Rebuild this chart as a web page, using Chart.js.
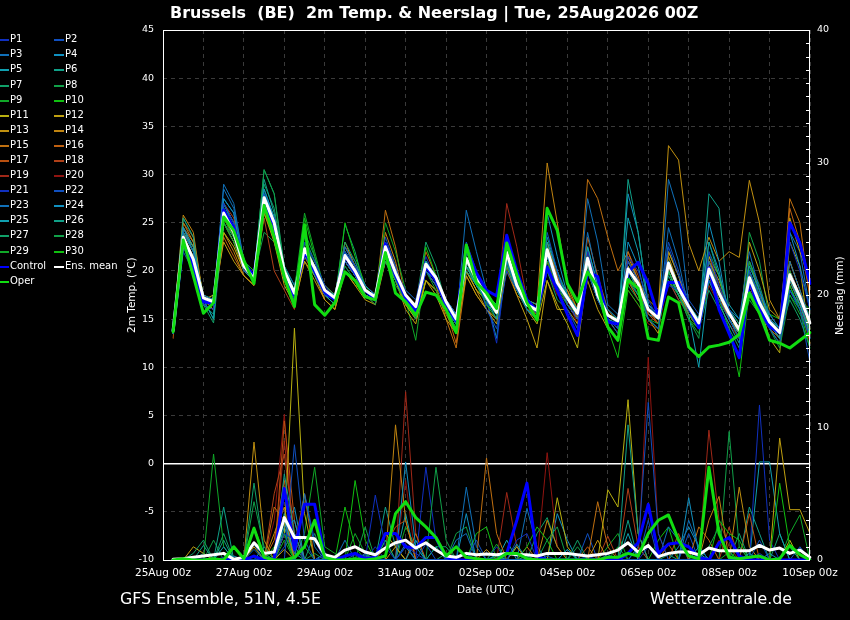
<!DOCTYPE html>
<html><head><meta charset="utf-8">
<script src="https://cdn.jsdelivr.net/npm/chart.js@4.4.1/dist/chart.umd.min.js"></script>
<style>
html,body{margin:0;padding:0;background:#000;}
#wrap{position:relative;width:850px;height:620px;background:#000;overflow:hidden;font-family:"DejaVu Sans",sans-serif;color:#fff;}
#c{position:absolute;left:0;top:0;}
.t{position:absolute;white-space:pre;color:#fff;}
.ln{position:absolute;}
</style></head><body>
<div id="wrap"><canvas id="c" width="850" height="620"></canvas></div>
<script>
// ---- categories / tick labels ----
const tickLabels = ['25Aug 00z','27Aug 00z','29Aug 00z','31Aug 00z','02Sep 00z','04Sep 00z','06Sep 00z','08Sep 00z','10Sep 00z'];
const seriesNames = ['P1','P2','P3','P4','P5','P6','P7','P8','P9','P10','P11','P12','P13','P14','P15','P16','P17','P18','P19','P20','P21','P22','P23','P24','P25','P26','P27','P28','P29','P30','Control','Ens. mean','Oper'];
const memberColors = ['#1030c0','#1050c0','#1070b8','#1090c0','#10a0b0','#10a088','#10a068','#10a048','#10a828','#10c010','#b8b010','#c0a010','#c09010','#c08410','#c07010','#c06010','#b85010','#b04018','#a02818','#901410','#1030c0','#1050c0','#1070b8','#1090c0','#10a0b0','#10a088','#10a068','#10a048','#10a828','#10c010'];
const ctrlColor='#0000ff', meanColor='#ffffff', operColor='#11dd11';

// ---- 2m temperature (°C), 6-hourly from 25Aug 06z to 10Sep 00z ----
const tMean=[13.8,23.5,21.2, 17.2,16.8,26.0,24.0, 20.5,19.2,27.6,25.0, 20.0,17.7,22.3,20.3, 18.0,17.2,21.6,20.0, 18.0,17.3,22.5,19.8, 17.5,16.3,20.7,19.3, 16.8,15.0,21.3,19.1, 17.3,15.7,21.9,18.5, 16.5,15.9,22.2,18.8, 17.2,15.6,21.3,17.5, 15.4,14.8,20.2,18.7, 16.0,15.1,20.8,18.2, 16.3,14.6,20.2,17.7, 15.6,13.9,19.3,16.7, 14.7,13.6,19.6,17.3, 14.6];
const tCtrl=[13.8,23.0,20.5, 16.8,16.6,26.3,24.5, 20.8,19.5,27.0,24.8, 19.5,17.5,22.0,20.0, 17.8,17.0,21.6,19.8, 18.0,17.0,22.8,19.5, 17.2,15.8,20.5,19.0, 16.6,14.8,22.5,19.8, 18.0,17.4,23.7,20.0, 17.0,15.9,20.4,18.0, 15.5,13.3,19.9,19.4, 14.7,14.5,19.9,20.9, 18.7,15.2,18.8,18.8, 16.3,14.1,20.3,16.0, 13.5,11.0,19.0,16.0, 14.2,13.6,25.0,22.9, 18.7];
const tOper=[13.7,23.2,19.5, 15.6,16.7,25.6,24.2, 21.1,18.7,26.8,23.5, 19.4,16.3,24.8,16.5, 15.4,16.7,19.9,19.0, 17.3,17.0,21.9,17.7, 16.8,15.4,17.8,17.5, 16.0,13.6,22.7,18.8, 17.7,16.1,22.9,19.6, 16.7,14.9,26.5,24.2, 18.7,16.8,19.9,18.3, 14.2,12.8,19.1,18.2, 13.0,12.8,17.3,16.7, 12.1,11.1,12.1,12.3, 12.6,13.4,17.7,15.6, 12.8,12.5,12.0,12.8, 13.6];
const t01=[14,22.5,20, 16.5,16,27,25, 21,19,27,25.5, 19.5,17,23,21, 18.5,17,22,20.5, 18,17,23,20, 18,17,21.5,19, 16,14,21,19.5, 17.5,16,23.5,19, 17,15.5,20,18, 16,14,22,18, 15,14,21.5,20, 17,15,18.5,18, 16,14,22,18.5, 16,14,18,16, 15,13.5,23,20, 16];
const t02=[13.5,23,20.5, 17,16.5,26.5,24, 20,19.5,28,25, 19,17.5,21.5,20, 17.5,17,21,19.5, 18,17.5,23.5,20.5, 17,15.5,20,18.5, 17,15.5,23,20, 16,14,20,18, 17,16,24,20, 16.5,15,20,17, 15,13.5,21,19, 15,14,22.5,19.5, 17,15.5,19,17, 15,13,20,17.5, 14,12.5,18,16, 13];
const t03=[14,24,22, 17.5,17,28.5,26.5, 21,19.5,27,24.5, 20,18,22,20, 18,17.5,22.5,20.5, 18.5,17.5,22,19.5, 17.5,16.5,20.5,19, 16,14.5,26.3,22, 18,16,21,18, 16,15,21.5,18.5, 17,15.5,24,19, 16,15,20,18, 16.5,15,24.5,21, 16,14.5,21,18, 16,15,22,18, 15.5,14,21,18, 15];
const t04=[13.5,24.5,22, 17,16.5,27.5,26, 20.5,19,28.5,25.5, 20,18,22.5,20.5, 18,17,21,19.5, 18,17,22.5,20, 17,16,20,19, 17,15.5,22,19.5, 17,15,22.5,19.5, 16.5,16,26,21.5, 17.5,16,21,17.5, 15,14,23,20.5, 16,15,21,18.5, 16.5,15,25,21, 15,13.5,19,17, 14.5,13,24,20.5, 16];
const t05=[14,24.5,22.5, 17,15,27,25, 20,19,28,25.5, 19.5,17,22,19.5, 17.5,16.5,22,20.5, 18.5,17.5,23,20, 17.5,16.5,21,19.5, 16,14.5,20.5,18.5, 17,16,22,19, 16,15,23,20, 17,15.5,22.5,18.5, 15.5,14.5,25.5,22, 16.5,15.5,21,18, 16,14,19,16.5, 14.5,12.5,20.5,18, 15,14,19,16.5, 13.5];
const t06=[13.5,25.5,23.5, 16.5,15.5,27,24.5, 21,19.5,29.5,26, 20,17.5,23,21, 17.5,17,22,20, 17.5,17,21.5,19, 17,16,21,19.5, 17,15.5,20,18.5, 17.5,16.5,21,18, 17,16.5,23.5,20, 17.5,16,20.5,17, 15,14,29.5,24, 16.5,15.5,19.5,17.5, 16.5,15,23,19.5, 16,14.5,20,17, 15,14,18,16.5, 14];
const t07=[13.8,23,21, 16.5,14.6,25,23.5, 20.5,19,29,26.5, 20.5,18,23.5,21, 18.5,17.5,23,21, 18,17,21,18.5, 17,15,20,18.5, 16.5,15,20.5,18.5, 17,16,21.5,18.5, 16,15,20,17, 16,14,21,17.5, 16,15,19,17.5, 15,14,20,17.5, 15.5,14,18,16, 14,12,21,18.5, 15,13.5,17,15, 12];
const t08=[14,24,22, 17.5,17,26.5,24, 20.5,19.5,30.5,28, 20,18,24,21.5, 18,17,21,19.5, 17.5,16.5,22,19.5, 17,15.5,21,19.5, 16.5,15,21.5,19, 16.5,15.5,20.5,18, 16.5,16,22.5,19, 17,15.5,20,17, 15.5,14.5,18.5,17, 16,15,19,17.5, 15,13,22,19.5, 15,13,17,15.5, 14,12,17.5,16, 13];
const t09=[13.5,22.5,20.5, 17,17,25,23, 20.5,19,27.5,24.5, 20,18,26,22, 18,17.5,20.5,19, 18,17.5,25,22, 18,17,20,18, 16,14.5,21,18.5, 17,15.5,21.5,18.5, 16,15,21,18, 16.5,15.5,21,17.5, 15.5,15,20,18, 15,14.5,19,17.5, 15,13.5,19.5,17.5, 16,14.5,21,17.5, 14.5,13,20,17, 15.5];
const t10=[13.5,23,21, 17,17,25.5,23.5, 21,20,28,24, 19,16.5,25.5,21.5, 17.5,16.5,25,21.5, 18.5,17,22,19, 17,15.5,22.5,19.5, 16,14,20.5,18.5, 16.5,15,21,18, 16,15,22,18, 17,15.5,21.5,17.5, 14,11,18,16.5, 15,14,20,17.5, 15,14,19,17, 14,9,18,16, 14,12.5,18.5,16, 12];
const t11=[14,23,21.5, 17,17.5,24,22.5, 20,19,27,24.5, 19.5,17.5,21.5,20, 18,17,21,19.5, 17.5,17,21,19, 16.5,15,19,18, 16,14.5,20,18, 17,15.5,21,18, 16,14.5,19,16.5, 14.5,12,20,17, 15.5,15,19,18, 16,15,20,17.5, 16,14.5,21.5,19.5, 15.5,13.5,19,16.5, 13,11.5,23,20.5, 12.5];
const t12=[14,24,22.5, 17.5,17,23,21, 19.5,18.5,26,23, 18.5,16.5,21,19, 17,16,20,18.5, 17,16.5,21,19, 16,14.5,19,17.5, 15,13.5,19.5,17.5, 16,14.5,20.5,17.5, 15,12,19,16, 16,14.5,19,16, 14,13,20.5,18, 15,13.5,22,19.5, 16,15,21,19, 16,14,23,20, 16,15,25.5,22, 19];
const t13=[13.5,25,23, 17,16.5,25,23, 20,19.5,27,25, 19.5,17,22.5,20.5, 18,17.5,23,20.5, 17.5,17,22,19.5, 17,16,20.5,19, 16,14,20,18, 16,15,22,19, 16,15,22,19, 18,15,21,18, 15,13.5,21.5,19, 17,16,33,31.5, 22.9,20,23.5,21, 22,21.4,29.4,25, 17,15,21,18, 15];
const t14=[14,25.8,24, 17,16,24,22, 19.5,18.5,26.5,24, 19,16.5,21,19.5, 17,16,20,18.5, 18,17.5,24,21, 16.5,15,19,18, 15.5,13.5,20.5,18.5, 17.5,16.5,22.5,19.5, 17,16.5,31.2,25, 18.5,16,21.5,17.5, 15.5,14.5,21,19, 16,15,22,19.5, 16,14.5,20,17.5, 15,13.5,21,18, 14.5,13,21,18, 14];
const t15=[14,24,22, 17.5,17,25.5,23.5, 20.5,19,27,24, 19,17,21.5,19.5, 17.5,16.5,21,19.5, 18,17,26.3,22.5, 17,15.5,20,18.5, 15,12,19.5,17.5, 16,15,20,17.5, 16.5,15.5,21,18, 18,16,29.5,27.5, 23.5,20,22,19, 16.5,15.5,21.5,18.5, 16,14.5,19.5,17, 15.5,13.5,19.5,17, 15,13.5,27.5,25, 17];
const t16=[13.5,24.5,22.5, 16.5,16,23.5,21.5, 19.5,18.5,26,23.5, 19,17,22,20, 17,16,21,19.5, 18,17,22,19, 17.5,16.5,22,19.5, 16,12.5,20,18, 17,15.5,21.5,18.5, 16,15,23,19.5, 16.5,15,23.5,19.5, 16,14.5,19,17, 16,14.5,20.5,18, 15.5,14,21,18, 15,13,18.5,16, 14,13,26.5,23, 17.5];
const t17=[13,24.5,23, 17,16.5,27,25, 20.5,19,26.5,23, 19.5,17.5,22.5,20.5, 18.5,17.5,22,20, 18,17,23,20.5, 17,15.5,21,19.5, 17,15.5,21.5,19, 17.5,16,23,19.5, 17,16,22.5,19, 17,15.5,20.5,17.5, 15.5,14.5,22,19.5, 15.5,14.5,19,17, 15.5,14,21.5,18.5, 15.5,14,20,17, 15,14,20,17.5, 14.5];
const t18=[14,25,23.5, 17,16.5,27,25.5, 20,19,25.5,20, 18,16,22.5,20.5, 18,17,22.5,20.5, 18.5,17.5,22,19.5, 17.5,16,20.5,19, 16.5,15,20.5,18.5, 17,16,23,19.5, 16,15.5,21,18, 17,15.5,21,17.5, 15.5,14.5,20,18, 15.5,14.5,21,18.5, 16,14,19.5,17, 15,13.5,18.5,16, 14.5,13,19,16.5, 14];
const t19=[13.5,24,22, 16.5,16,26,24.5, 20.5,19.5,27.5,25, 20,18,22,20, 17.5,16.5,21.5,19.5, 17.5,17,21.5,19, 16.5,15.5,20,18.5, 16.5,15,22,19.5, 17.5,16,27,22.5, 17,16.5,21,18.5, 17.5,16,22,18, 15,14,19,17, 16,14.5,21,18.5, 16,14.5,20.5,18, 15,13,19.5,17, 14.5,13,19,16.5, 13.5];
const t20=[14,23.5,21.5, 17,16.5,25.5,23.5, 20,19,27,24.5, 19.5,17.5,22.5,20, 18,17,21,19.5, 17.5,16.5,22,19.5, 17.5,16,20,19, 17,15.5,21,19, 17.5,16,22,18.5, 16,15.5,20,17.5, 17,14.5,21,17.5, 15.5,15,18,16.5, 14.5,14,19,17.5, 15.5,14,18.5,16.5, 14.5,13,18,16, 14,12.5,19,16.5, 12.5];
const t21=[14,23,21, 17,16.5,26,24.5, 20,19,28,25, 20,18,22,20.5, 18,17,20.5,19, 18,17.5,22,20, 17.5,16.5,20.5,19, 16.5,15,21,19, 17,12.5,21,18, 16,15,22,19, 17,15,22,18, 15,14,20.5,18.5, 16,15,19,17, 16,14.5,20,17.5, 15.5,14,18,16, 14.5,13,20,17.5, 13];
const t22=[13.5,22,20, 16.5,16,25,23, 20.5,19.5,28,25.5, 20,17.5,22,20, 17.5,17,22.5,21, 18.5,17.5,22.5,20, 17.5,16.5,21,19.5, 16,14.5,21.5,19.5, 17,15.5,22,18.5, 16.5,16,21.5,18.5, 17,16,20,17, 15,14,21,19, 16.5,15.5,23,20, 16,14.5,20.5,18, 15,13.5,19.5,17, 14.5,13,18,16, 10.5];
const t23=[14,24.5,23, 17,16.5,29,27, 21,20,28,25.5, 20.5,18.5,22,20, 18,17,21.5,19.5, 17.5,17,21.5,19.5, 17.5,16.5,20.5,19.5, 17,15,21,19, 17.5,16,20.5,18, 16.5,15.5,22,19, 17.5,16,27.5,23, 16.5,15.5,19.5,17.5, 16,15,29.5,26, 16.5,14.5,19.5,17, 15,13.5,20,17.5, 15,13.5,24,22, 16];
const t24=[13.5,24,22, 17,16.5,27.5,26, 20.5,19.5,27.5,25, 20,18,22.5,20.5, 18,17.5,22.5,20.5, 18,17.5,23,20.5, 17,15.5,21,19, 17,15.5,20.5,19, 17,13,21,18.5, 17,16,22.5,19.5, 16.5,15,20,17.5, 15,14.5,28,24, 16.5,15.5,21,18.5, 16,14.5,23,20, 15,13.5,19,16.5, 14.5,13,20,17.5, 14.5];
const t25=[13.5,23.5,21.5, 16.5,16,26.5,24.5, 20,19,27,24.5, 20,18,22.5,20.5, 18,17,22,20.5, 18,17.5,22,20, 17.5,16,20,18.5, 16.5,14.5,21,18.5, 17,15.5,21.5,18.5, 16.5,15.5,22.5,19, 16.5,15,22.5,18.5, 15,14,21,19, 15.5,15,20,17.5, 15.5,10,19,17, 16.5,15,19,17.5, 15.5,14,19,17, 13];
const t26=[14,24,22, 17,15,27,25, 20,19,28.5,25.5, 19.5,17.5,22.5,20.5, 17.5,16.5,22,20, 18,17,22.5,20, 17,16,20.5,19, 16.5,15,21,18.5, 17,16,21,18, 16,15.5,22,18.5, 16.5,15,21.5,17.5, 15,14,21,19, 15.5,15,21,18, 15.5,14.5,28,26.5, 15.5,14,20,17, 15,14,20,17.5, 14.5];
const t27=[13.5,25.5,23.5, 17,16,26,24, 20.5,19.5,30.5,28, 20.5,18.5,23,20.5, 18,17,24.8,22, 18,17.5,22,19.5, 17.5,16.5,23,20.5, 16.5,15,20.5,18.5, 17,15.5,22,19, 16.5,16,22.5,19, 16.5,15,21.5,18, 15,14.5,20,18, 16,15.5,21,18, 15.5,14.5,20.5,18, 15.5,14,20,17, 14.5,13,18.5,16, 14];
const t28=[14,24,22.5, 17.5,17,26,24, 20.5,19.5,24,23, 19.5,17.5,22,20, 18,17,21.5,19.5, 17.5,16.5,22.5,20, 17,15.5,21,19, 16,14.5,21,19, 17,16,21.5,18, 16.5,15,23,19.5, 17.5,16,21,17.5, 15.5,14.5,19,17.5, 16,15,20,17.5, 16,15,21,18.5, 15,13.5,24,21, 15,14,19.5,16.5, 15];
const t29=[14,23,21, 16.5,16,25.5,23.5, 20.5,19,27,24.5, 20,18,22.5,20.5, 18,17,21,19.5, 17.5,17,22,19.5, 17,12.8,20.5,19, 16.5,15,21,19, 17.5,16.5,22,18.5, 16.5,15.5,22,18.5, 17,15.5,22,18, 15.5,15,20.5,18.5, 16,15,20.5,18, 15.5,14,19.5,17, 15.5,14,19.5,17, 15,14,17.5,15.5, 14];
const t30=[13.5,23.5,21.5, 17,16.5,25,23, 20.5,19.5,27.5,24.5, 20,18,23,20.5, 18,17,22,20, 18,17,22,19.5, 17,15.5,21,19, 16.5,15,21.5,19, 17,15.5,22,18.5, 16,15,21.5,18, 17,15.5,21.5,18, 15,14,20,18.5, 16,15,21.5,18.5, 16,14,19.5,17, 15,13,19,16.5, 15.5,15,19,17, 16];

// ---- precipitation (mm per 6 h), same time steps ----
const rMean=[0.05,0.1,0.2,0.3,0.4,0.5,0.05,0.2, 1.3,0.5,0.6,3.2,1.7,1.7,1.6,0.4, 0.2,0.75,1.0,0.6,0.4,0.9,1.3,1.5, 0.9,1.3,0.75,0.3,0.2,0.5,0.4,0.45, 0.4,0.5,0.4,0.4,0.3,0.5,0.5,0.5, 0.4,0.3,0.4,0.5,0.75,1.3,0.6,1.1, 0.25,0.5,0.6,0.6,0.4,0.9,0.7,0.7, 0.7,0.7,1.1,0.75,0.9,0.5,0.75,0.2];
const rCtrl=[0,0,0,0,0,0,0,0, 0.3,0,0.1,5.4,0.8,4.2,4.2,0.2, 0,0.3,0.5,0.1,0.2,2.0,2.0,1.0, 0.9,1.7,1.7,0.2,0,0,0,0, 0,0.5,3.0,5.8,0.3,0,0,0, 0,0,0,0,0,0.5,1.3,4.2, 0.5,1.2,1.3,1.0,0.2,0,1.3,1.7, 0.3,0,0,0,0,0,0,0];
const rOper=[0,0.1,0,0,0.1,0,1.0,0.1, 2.4,0.2,0,0,0.2,1.0,3.0,0.2, 0,0,0.1,0,0.1,0.3,3.5,4.4, 3.2,2.5,1.7,0.3,1.0,0.2,0.1,0, 0,0.5,0.5,0.1,0,0,0,0, 0,0,0,0.2,0.2,0.5,0.3,2.0, 3.0,3.4,1.5,0.3,0.1,7.0,2.0,0.2, 0.1,0.2,0.3,0,0.1,1.1,0.4,0];
const r01=[0,0,0,0,0,0.2,0,0, 0,0,0,2,1.5,0,0,0.3, 0,0,0,0,4.9,1,0,1, 0.5,0,0,0,0,0,0,0, 0,0,1.5,2,0,0,0,0, 0,0.3,0,0,0,0,0,1, 0,0,0,0,0,0,0,0, 0,0,0.5,0,0,0,0,0];
const r02=[0,0,0,0,0,0,0,0, 0,0.3,0,0,8.7,1.5,0,0, 0,0,0.4,0,0,0,0,0, 0,1.2,0,0,0,0.5,0,0, 0,0,0,0,0,0.3,0,0, 0,0,0,0,0,0,1,11.9, 2,0,0,0,0,0,0,0, 0,0,1.5,0,0,0,0,0];
const r03=[0,0,0,0,0,0,0,0, 0.8,0,0,0,0,5,1,0, 0,0,0,0.3,0,0,0,1.2, 0,0,0,0,0,5.5,1,0, 0,0,0,0,0,0,0,0, 0,0,0,0.4,0,0,0,0, 0,0,0,3,1,0,0,0, 0,0,0,0,0,0,0,0];
const r04=[0,0,0,0,0,0,0.3,0, 0,0,0,2.5,3,0,0,0, 0,0,0,0,0,0,0,7.4, 1,0,0,0,0,0,0,0, 0.4,0,0,0,0,0,0,0.8, 0,0,0,0,0,0,0,0, 0,0,0,4.7,0.5,0,0,0, 0,0,0,0.5,0,0,0,0];
const r05=[0,0,0,0,0,1,0,0, 0,0,0,3,0.5,0,0,0, 0.3,0,0,0,0,0,0,0, 1.5,0,0,0,0,0,0,0, 0,0,1.2,0,0,0,0,0.8, 0,0,0,0,0,2,0,0, 0,0,0,0,1,0,0,0, 0,0.5,0,0,0,0,0,0];
const r06=[0,0,0,1.1,0,4,0,0, 0,0,0,6.5,2,0,0,0, 0,0,0,0.4,0,0,0,0, 0,0,1,0,0,0,0,0, 0,0,0,0.3,0,0,0,0, 0,0,0,0,0,10.2,2,0, 0,0,0,0,0,0,0,0, 0,0,0,0,0,1,0,0];
const r07=[0,0,0.5,1.5,0,0,0,0, 5.8,0.5,0,0,0,0,0,0, 0,0,0,0,0,1.5,0,0, 0,0,0,0.5,0,0,0,0, 0.3,0,0,0,0,0,0,0, 1.5,0,0,0,0,0,0,0, 0,0.4,0,0,0,0,0,0, 2,0,0,0,0,0,0,0];
const r08=[0,0,0,0,0,0,0,0, 4.4,1,0,0,0,0,0.5,0, 0,0,0,0,0,0,0,0, 0,0,7,1.5,0,0,0,0, 0,0,0,0,0,1.5,2.5,0, 0,0,0,0,0,0,0,0, 0,0,0,0,0,1,2.5,0, 0,0,0,0,0,0,0,0];
const r09=[0,0,0,0,8,1,0,0, 0,0,0,1.5,0,0,0,0, 0,0,2,0.5,0,0,0,0, 0,0,0,0,0,0,0,0, 1.2,0,0,0,0,0,0,0, 0,0,0,0,1,0,0,0, 0,0,0,0,0,0,0,0.6, 0,0,0,0,0,0,0,0];
const r10=[0,0,0,0,0,0,0,0, 0,0,1,2,0,0,0,0, 0,0,6,1.5,0,0,0,0, 0,0,0,0,0,0,0,0, 0,0,0,1,2.5,1.5,0,0, 0,0,0,0,0,0,0,0, 0,0,0,0,0,0,3,2, 1.5,0,0,0,5.8,1,0,0];
const r11=[0,0,0,0,0,0,0,0, 0,0,0,2,17.5,3.5,0,0, 0,0,0,0,0,0,0,0, 0,0,0,0,0,0,0,0, 0,0,0,0,0,0,4.7,1, 0,0,0,5.3,4,12.1,2,0, 0,0,0,0,0,0,0,0, 0,0,0,0,0,1.5,0,0];
const r12=[0,0,1,0.5,0,0,0,0, 1,0,0,0.8,0,0,0,0, 0,0,0,0,0,0,1,0, 0,0,0,0,0,0,0,0, 0,0,1,0,0,0,0,0, 0,0,0,0,0,0,0,0, 0,0,0,0,0,0,0,0, 0,0,0,0,9.2,3.8,3.8,2];
const r13=[0,0,0,0,0,0,0,0, 8.9,1.5,0,0,0,0,0,0, 0,0,0,0,0,2,1,0, 0,0,0,0,0,0,0,0.8, 0,0,0,0,0,0,0,0, 0,0,1.5,0,0,0,0,0, 0,0,0,0,0,0,0,0, 5.5,1,0,0,0,0,0,0];
const r14=[0,0,0,0,0,0,0,0, 0,0,2,4,0,0,0,0, 0,0,0,0,0,0,10.2,3, 0,0,0,0,0,0,0,0, 0,0,0,0,0,3,1,0, 0,0,0,0,0,0,0,0, 0,0,0,0,0,3,4.8,0, 0,0,0,0,0,0,0,0];
const r15=[0,0,0,0,0,0,0,0, 0,0,4,3,0,0,0,0, 0,0,0,0,0,0,0,0, 0,0,0,0,0,0,0,7.7, 2,0,0,0,0,0,0,0, 0,0,4.4,1,0,0,0,0, 0,0,0,0,2.5,1.5,0,0, 0,0,0,0,0,0,0,0];
const r16=[0,0,0,0,0,0,0,0, 0,0,1.5,6,1,5,0,0, 0,0,0,0,0,0,0,0, 2,0,0,0,0,0,0,0, 0,0,0,1,0,0,0,0, 0,0,0,0,0,0,0,0, 0,1.2,0,0,0,0,0,0, 0,0,0,0,0,0,0,0];
const r17=[0,0,0,0,0,0,0,0, 0,0,0,10.5,3,0,0,0, 0,0,0,0,0,1,2.5,3, 0,0,0,0,0,0,0,0, 0,0,0,0,0,0,0,0, 0,1,0,0,0,0,0,0, 0,0,2,0,0,0,0,0, 0,3.5,0,0,0,0,0,0];
const r18=[0,0,0,0,0,0,0,0, 0,0,5,8,2,0,0,0, 0,0,0,0,0,0,0,0, 0,0,0,0,1,0,0,0, 0,0,0,0,0,0,0,0, 0,0,0,1.8,0,5.4,1,0, 0,0,0,0,0,0,0,2.5, 0,0,0,0,0,0,0,0];
const r19=[0,0,0,0,0,0,0,0, 0,0,0,9,1.5,0,0,0, 0,0,0,0,0,0,0,12.7, 2,0,0,0,0,0,0,0, 0,5.1,1,0,0,0,0,0, 0,0,0,0,0,0,0,0, 0,0,0,0,0,9.8,3,1, 0,0,0,0,0,0,0,0];
const r20=[0,0,0,0,0,0,0,0, 0,0,3,11,0,0,0,0, 0,0,0,0,0,0,0,6, 0,0,0,0,0,0,0,0, 0,0,0,0,0,8.1,1,0, 0,0,0,0,0,0,0,15.3, 2,0,0,0,0,0,1.5,0, 0,0,0,0,0,0,0,0];
const r21=[0,0,0,0,0,0,0,0, 0,0,0,0,0,5,1.5,0, 0,0,0,0,1,0,0,0, 0,7,1.5,0,0,0,0,0, 1,0,0,0,0,0,0,0, 0,0,0,0,0,0,0,0, 0,0,0,0,0,0,0,0, 0,0,11.7,1.5,0,0,0,0];
const r22=[0,0,0,0,0,0,0,0, 0,0,0,1,2,0,0,0, 0,0,0,0.5,0,0,0,0, 0,0,0,0,0,0,1.5,0, 0,0,0,0,0,0,0,0, 0,2,0,0,0,0,0,3, 0,0,0,2,0,0,0,0, 0,0,0,0,0,0,1,0];
const r23=[0,0,0,0,0,0,0,0, 1.2,0,0,3,0,0,0,0, 0,1.5,0,0,0,0,0,0, 0,0,0,0,1.5,2,0,0, 0,0,0,3.9,1,0,0,0, 0,0,0,0,0,0,0,0, 0,2.5,1.5,0,0,0,0,0, 0,0,0,0,0,0,0,0];
const r24=[0,0,0,0,0,0,0,0, 0,0,0,2,4,0,0,0.5, 0,0,0,0,0,0,0,1, 0,0,0,0,0,3.5,0,0, 0,0,0,0,0,0,3.5,1.5, 0,0,0,0,0,0,0,0, 0,0,1,2.5,1,0,0,0, 0,0,0,0,0,0,0,0];
const r25=[0,0,0,0,0,0,0,0, 0,1,0,3.5,0,0,0,0, 0,0,0,0,0,1.5,0,3.5, 0,0,0,0,0,0,0,0, 0,1.5,0,0,0,0,0,0, 0,0,0,0,0,0,1,0, 0,0,0,0,0,0,0,0, 0,0,7.4,7.4,2,0,0,0];
const r26=[0,0,0,0,0,1.5,0,0, 0,0,0,5,1,0,0,0, 0,0,0,0,0,4,1,0, 0,0,0,0,0,0,0,0, 0,0,1,0,0,0,0,0, 0,0,0,0,0,3,0,0, 0,0,0,0,0,0,0,0, 0,4,2,0,0,0,0,0];
const r27=[0,0,0,0.5,0,2,0,0, 0,0,0,2,0,0,2,0, 0,0,0,0,0,0,0,0, 0,0,1,1,0,0,0,0, 0,0,0,0,2,3.2,1,0, 0,0,0,0,0,0,0,0, 0,0,0,0,0,0,0,0, 0,0,0,0,2,0,0,0];
const r28=[0,0,0,0,1.5,0,0,0, 0,0,0,2.5,0,1,0,0, 0,0,0,2.5,0,0,0,0, 0,0,0,0,2,2.5,0,0, 0,0,0,0,0,0,0,0, 1,0,0,0,0,0,0,0, 0,0,0,0,0,0,0,9.7, 1,0,0,0,0,0,0,0];
const r29=[0,0,0,0,0,0,0,0, 0,0,0,0,0,2,7,1, 0.5,0,0,0,0,0,0,2.5, 1,0,0,0,0,0,0,0, 0,0,0,0,0,0,0,0, 0,0,0,1,2,0,0,0, 0,0,0,0,0,0,0,0, 0,0,0,0,0,2,3.4,0];
const r30=[0,0,0,0,0,0,0,0, 2.5,0.5,0,0,0,0,0,0, 0,4,1,0,0,0,0,0, 0,0,0,0,0,0,2,2.5, 0,0,0,0,0,0,0,0, 0,0,0,0,0,0,0,0, 1.5,2.5,0,0,0,0,0,0, 1,0,0,0,0,0,0,0];

const memberTemps=[t01,t02,t03,t04,t05,t06,t07,t08,t09,t10,t11,t12,t13,t14,t15,t16,t17,t18,t19,t20,t21,t22,t23,t24,t25,t26,t27,t28,t29,t30];
const memberPrecip=[r01,r02,r03,r04,r05,r06,r07,r08,r09,r10,r11,r12,r13,r14,r15,r16,r17,r18,r19,r20,r21,r22,r23,r24,r25,r26,r27,r28,r29,r30];

// x categories: 6-hourly steps, 25Aug 00z .. 10Sep 00z (65 steps)
const steps=[]; for(let h=0;h<=384;h+=6) steps.push(h+'h');

function ds(vals,color,width,axis,order){
  return {data:[null].concat(vals),borderColor:color,backgroundColor:color,borderWidth:width,yAxisID:axis,
    pointRadius:0,pointHoverRadius:0,fill:false,tension:0,order:order,borderJoinStyle:'round',borderCapStyle:'round'};
}
const datasets=[];
datasets.push(ds(tOper,operColor,3,'y',1));
datasets.push(ds(rOper,operColor,3,'y2',1));
datasets.push(ds(tMean,meanColor,3,'y',2));
datasets.push(ds(rMean,meanColor,3,'y2',2));
datasets.push(ds(tCtrl,ctrlColor,3,'y',3));
datasets.push(ds(rCtrl,ctrlColor,3,'y2',3));
for(let k=0;k<30;k++){
  datasets.push(ds(memberTemps[k],memberColors[k],1,'y',10));
  datasets.push(ds(memberPrecip[k],memberColors[k],1,'y2',10));
}

const framePlugin={
  id:'frame',
  beforeDatasetsDraw(chart){
    const {ctx,chartArea:a,scales}=chart;
    ctx.save();
    ctx.strokeStyle='#ffffff';
    ctx.lineWidth=1.5;
    const y0=scales.y.getPixelForValue(0);
    ctx.beginPath();ctx.moveTo(a.left,y0);ctx.lineTo(a.right,y0);ctx.stroke();
    ctx.lineWidth=1;
    ctx.strokeRect(Math.round(a.left)+0.5,Math.round(a.top)+0.5,Math.round(a.right-a.left)-1,Math.round(a.bottom-a.top));
    ctx.restore();
  },
  afterDatasetsDraw(chart){
    const {ctx,chartArea:a,scales}=chart;
    ctx.save();
    ctx.strokeStyle='#ffffff';ctx.lineWidth=1;
    const s=scales.y2;
    for(let v=0;v<=40;v++){
      const y=Math.round(s.getPixelForValue(v))+0.5;
      ctx.beginPath();ctx.moveTo(a.right-4,y);ctx.lineTo(a.right,y);ctx.stroke();
    }
    ctx.beginPath();ctx.moveTo(Math.round(a.right)-0.5,a.top);ctx.lineTo(Math.round(a.right)-0.5,a.bottom);ctx.stroke();
    ctx.restore();
  }
};

Chart.defaults.font.family='"DejaVu Sans", sans-serif';
Chart.defaults.color='#ffffff';
new Chart(document.getElementById('c'),{
  type:'line',
  data:{labels:steps,datasets:datasets},
  options:{
    responsive:false,animation:false,devicePixelRatio:1,
    layout:{padding:{top:30,left:0,right:0,bottom:0}},
    plugins:{legend:{display:false},title:{display:false},tooltip:{enabled:false}},
    events:[],
    scales:{
      x:{type:'category',offset:false,
        grid:{color:c=>(c.index%4===0?'#3a3a3a':'rgba(0,0,0,0)'),drawTicks:false,lineWidth:1},
        border:{display:false,dash:[4,4]},
        ticks:{autoSkip:false,maxRotation:0,minRotation:0,color:'#ffffff',padding:7,font:{size:10.5},
          callback:(v,i)=>(i%8===0?tickLabels[i/8]:'')},
        afterFit:s=>{s.height=60;}
      },
      y:{position:'left',min:-10,max:45,
        ticks:{stepSize:5,color:'#ffffff',padding:9,font:{size:9.5}},
        grid:{color:'#3a3a3a',drawTicks:false,lineWidth:1},
        border:{display:false,dash:[4,4]},
        afterFit:s=>{s.width=163;}
      },
      y2:{position:'right',min:0,max:40,
        ticks:{stepSize:1,autoSkip:false,color:'#ffffff',padding:7,font:{size:9.5},
          callback:v=>(v%10===0?String(v):'')},
        grid:{drawOnChartArea:false,drawTicks:false},
        border:{display:false},
        afterFit:s=>{s.width=40;}
      }
    }
  },
  plugins:[framePlugin]
});

// ---- HTML text: title, legend, axis titles, footers ----
const wrap=document.getElementById('wrap');
function addText(txt,opts){
  const el=document.createElement('div');
  el.className='t';el.textContent=txt;
  el.style.fontSize=opts.size+'px';
  el.style.lineHeight=Math.round(opts.size*1.2)+'px';
  if(opts.bold) el.style.fontWeight='bold';
  wrap.appendChild(el);
  if(opts.fitWidth){
    const w=el.getBoundingClientRect().width;
    const ns=opts.size*opts.fitWidth/w;
    el.style.fontSize=ns+'px';el.style.lineHeight=Math.round(ns*1.2)+'px';
    opts.size=ns;
  }
  const r=el.getBoundingClientRect();
  if(opts.rotate){
    el.style.transformOrigin='0 0';
    el.style.transform='rotate(-90deg)';
    el.style.left=Math.round(opts.cx - r.height/2)+'px';
    el.style.top=Math.round(opts.cy + r.width/2)+'px';
  } else {
    let left = opts.left!==undefined ? opts.left : opts.cx - r.width/2;
    el.style.left=Math.round(left)+'px';
    el.style.top=Math.round(opts.cy - r.height/2)+'px';
  }
  return el;
}
addText('Brussels  (BE)  2m Temp. & Neerslag | Tue, 25Aug2026 00Z',{size:15,bold:true,left:170,cy:12,fitWidth:529});
addText('GFS Ensemble, 51N, 4.5E',{size:16,left:120,cy:598,fitWidth:201});
addText('Wetterzentrale.de',{size:16,left:650,cy:598,fitWidth:142});
addText('Date (UTC)',{size:10.5,cx:486,cy:589});
addText('2m Temp. (°C)',{size:10.5,cx:131.5,cy:295,rotate:true});
addText('Neerslag (mm)',{size:10.5,cx:839.5,cy:296,rotate:true});

const allColors=memberColors.concat([ctrlColor,meanColor,operColor]);
seriesNames.forEach((name,k)=>{
  const row=Math.floor(k/2), col=k%2;
  const cy=39.3+15.09*row;
  const ln=document.createElement('div');
  ln.className='ln';
  ln.style.background=allColors[k];
  ln.style.height='2px';
  ln.style.width=(col===0?9:10)+'px';
  ln.style.left=(col===0?0:54)+'px';
  ln.style.top=Math.round(cy)+'px';
  wrap.appendChild(ln);
  addText(name,{size:10,left:(col===0?9.5:65),cy:cy});
});
</script>
</body></html>
